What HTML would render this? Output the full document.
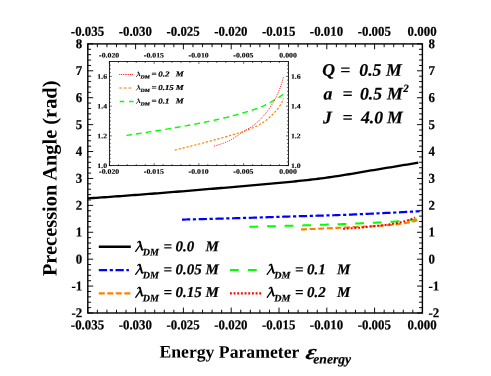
<!DOCTYPE html>
<html><head><meta charset="utf-8"><title>plot</title>
<style>html,body{margin:0;padding:0;background:#fff;}body{width:491px;height:376px;position:relative;overflow:hidden;font-family:"Liberation Serif",serif;}</style>
</head><body>
<svg width="491" height="376" viewBox="0 0 491 376" style="position:absolute;left:0;top:0;will-change:transform">
<rect x="0" y="0" width="491" height="376" fill="#fff"/>
<rect x="87.8" y="43.9" width="334.59999999999997" height="269.1" fill="none" stroke="#000" stroke-width="1.4"/>
<path d="M87.80,313.0 v-5.4 M87.80,43.9 v5.4 M97.36,313.0 v-3.3 M97.36,43.9 v3.3 M106.92,313.0 v-3.3 M106.92,43.9 v3.3 M116.48,313.0 v-3.3 M116.48,43.9 v3.3 M126.04,313.0 v-3.3 M126.04,43.9 v3.3 M135.60,313.0 v-5.4 M135.60,43.9 v5.4 M145.16,313.0 v-3.3 M145.16,43.9 v3.3 M154.72,313.0 v-3.3 M154.72,43.9 v3.3 M164.28,313.0 v-3.3 M164.28,43.9 v3.3 M173.84,313.0 v-3.3 M173.84,43.9 v3.3 M183.40,313.0 v-5.4 M183.40,43.9 v5.4 M192.96,313.0 v-3.3 M192.96,43.9 v3.3 M202.52,313.0 v-3.3 M202.52,43.9 v3.3 M212.08,313.0 v-3.3 M212.08,43.9 v3.3 M221.64,313.0 v-3.3 M221.64,43.9 v3.3 M231.20,313.0 v-5.4 M231.20,43.9 v5.4 M240.76,313.0 v-3.3 M240.76,43.9 v3.3 M250.32,313.0 v-3.3 M250.32,43.9 v3.3 M259.88,313.0 v-3.3 M259.88,43.9 v3.3 M269.44,313.0 v-3.3 M269.44,43.9 v3.3 M279.00,313.0 v-5.4 M279.00,43.9 v5.4 M288.56,313.0 v-3.3 M288.56,43.9 v3.3 M298.12,313.0 v-3.3 M298.12,43.9 v3.3 M307.68,313.0 v-3.3 M307.68,43.9 v3.3 M317.24,313.0 v-3.3 M317.24,43.9 v3.3 M326.80,313.0 v-5.4 M326.80,43.9 v5.4 M336.36,313.0 v-3.3 M336.36,43.9 v3.3 M345.92,313.0 v-3.3 M345.92,43.9 v3.3 M355.48,313.0 v-3.3 M355.48,43.9 v3.3 M365.04,313.0 v-3.3 M365.04,43.9 v3.3 M374.60,313.0 v-5.4 M374.60,43.9 v5.4 M384.16,313.0 v-3.3 M384.16,43.9 v3.3 M393.72,313.0 v-3.3 M393.72,43.9 v3.3 M403.28,313.0 v-3.3 M403.28,43.9 v3.3 M412.84,313.0 v-3.3 M412.84,43.9 v3.3 M422.40,313.0 v-5.4 M422.40,43.9 v5.4 M87.8,313.00 h5.4 M422.4,313.00 h-5.4 M87.8,307.62 h3.3 M422.4,307.62 h-3.3 M87.8,302.24 h3.3 M422.4,302.24 h-3.3 M87.8,296.85 h3.3 M422.4,296.85 h-3.3 M87.8,291.47 h3.3 M422.4,291.47 h-3.3 M87.8,286.09 h5.4 M422.4,286.09 h-5.4 M87.8,280.71 h3.3 M422.4,280.71 h-3.3 M87.8,275.33 h3.3 M422.4,275.33 h-3.3 M87.8,269.94 h3.3 M422.4,269.94 h-3.3 M87.8,264.56 h3.3 M422.4,264.56 h-3.3 M87.8,259.18 h5.4 M422.4,259.18 h-5.4 M87.8,253.80 h3.3 M422.4,253.80 h-3.3 M87.8,248.42 h3.3 M422.4,248.42 h-3.3 M87.8,243.03 h3.3 M422.4,243.03 h-3.3 M87.8,237.65 h3.3 M422.4,237.65 h-3.3 M87.8,232.27 h5.4 M422.4,232.27 h-5.4 M87.8,226.89 h3.3 M422.4,226.89 h-3.3 M87.8,221.51 h3.3 M422.4,221.51 h-3.3 M87.8,216.12 h3.3 M422.4,216.12 h-3.3 M87.8,210.74 h3.3 M422.4,210.74 h-3.3 M87.8,205.36 h5.4 M422.4,205.36 h-5.4 M87.8,199.98 h3.3 M422.4,199.98 h-3.3 M87.8,194.60 h3.3 M422.4,194.60 h-3.3 M87.8,189.21 h3.3 M422.4,189.21 h-3.3 M87.8,183.83 h3.3 M422.4,183.83 h-3.3 M87.8,178.45 h5.4 M422.4,178.45 h-5.4 M87.8,173.07 h3.3 M422.4,173.07 h-3.3 M87.8,167.69 h3.3 M422.4,167.69 h-3.3 M87.8,162.30 h3.3 M422.4,162.30 h-3.3 M87.8,156.92 h3.3 M422.4,156.92 h-3.3 M87.8,151.54 h5.4 M422.4,151.54 h-5.4 M87.8,146.16 h3.3 M422.4,146.16 h-3.3 M87.8,140.78 h3.3 M422.4,140.78 h-3.3 M87.8,135.39 h3.3 M422.4,135.39 h-3.3 M87.8,130.01 h3.3 M422.4,130.01 h-3.3 M87.8,124.63 h5.4 M422.4,124.63 h-5.4 M87.8,119.25 h3.3 M422.4,119.25 h-3.3 M87.8,113.87 h3.3 M422.4,113.87 h-3.3 M87.8,108.48 h3.3 M422.4,108.48 h-3.3 M87.8,103.10 h3.3 M422.4,103.10 h-3.3 M87.8,97.72 h5.4 M422.4,97.72 h-5.4 M87.8,92.34 h3.3 M422.4,92.34 h-3.3 M87.8,86.96 h3.3 M422.4,86.96 h-3.3 M87.8,81.57 h3.3 M422.4,81.57 h-3.3 M87.8,76.19 h3.3 M422.4,76.19 h-3.3 M87.8,70.81 h5.4 M422.4,70.81 h-5.4 M87.8,65.43 h3.3 M422.4,65.43 h-3.3 M87.8,60.05 h3.3 M422.4,60.05 h-3.3 M87.8,54.66 h3.3 M422.4,54.66 h-3.3 M87.8,49.28 h3.3 M422.4,49.28 h-3.3 M87.8,43.90 h5.4 M422.4,43.90 h-5.4" stroke="#000" stroke-width="0.95" fill="none"/>
<g font-family="Liberation Serif, serif" font-weight="bold" font-size="13.3px" fill="#000" stroke="#000" stroke-width="0.2">
<text transform="translate(87.50,329.30) rotate(0.05) scale(0.97,1.02)" text-anchor="middle">-0.035</text>
<text transform="translate(87.50,35.80) rotate(0.05) scale(0.97,1.02)" text-anchor="middle">-0.035</text>
<text transform="translate(135.30,329.30) rotate(0.05) scale(0.97,1.02)" text-anchor="middle">-0.030</text>
<text transform="translate(135.30,35.80) rotate(0.05) scale(0.97,1.02)" text-anchor="middle">-0.030</text>
<text transform="translate(183.10,329.30) rotate(0.05) scale(0.97,1.02)" text-anchor="middle">-0.025</text>
<text transform="translate(183.10,35.80) rotate(0.05) scale(0.97,1.02)" text-anchor="middle">-0.025</text>
<text transform="translate(230.90,329.30) rotate(0.05) scale(0.97,1.02)" text-anchor="middle">-0.020</text>
<text transform="translate(230.90,35.80) rotate(0.05) scale(0.97,1.02)" text-anchor="middle">-0.020</text>
<text transform="translate(278.70,329.30) rotate(0.05) scale(0.97,1.02)" text-anchor="middle">-0.015</text>
<text transform="translate(278.70,35.80) rotate(0.05) scale(0.97,1.02)" text-anchor="middle">-0.015</text>
<text transform="translate(326.50,329.30) rotate(0.05) scale(0.97,1.02)" text-anchor="middle">-0.010</text>
<text transform="translate(326.50,35.80) rotate(0.05) scale(0.97,1.02)" text-anchor="middle">-0.010</text>
<text transform="translate(374.30,329.30) rotate(0.05) scale(0.97,1.02)" text-anchor="middle">-0.005</text>
<text transform="translate(374.30,35.80) rotate(0.05) scale(0.97,1.02)" text-anchor="middle">-0.005</text>
<text transform="translate(422.10,329.30) rotate(0.05) scale(0.97,1.02)" text-anchor="middle">0.000</text>
<text transform="translate(422.10,35.80) rotate(0.05) scale(0.97,1.02)" text-anchor="middle">0.000</text>
<text transform="translate(82.20,317.30) rotate(0.05) scale(0.97,1.02)" text-anchor="end">-2</text>
<text transform="translate(428.40,317.30) rotate(0.05) scale(0.97,1.02)" text-anchor="start">-2</text>
<text transform="translate(82.20,290.39) rotate(0.05) scale(0.97,1.02)" text-anchor="end">-1</text>
<text transform="translate(428.40,290.39) rotate(0.05) scale(0.97,1.02)" text-anchor="start">-1</text>
<text transform="translate(82.20,263.48) rotate(0.05) scale(0.97,1.02)" text-anchor="end">0</text>
<text transform="translate(428.40,263.48) rotate(0.05) scale(0.97,1.02)" text-anchor="start">0</text>
<text transform="translate(82.20,236.57) rotate(0.05) scale(0.97,1.02)" text-anchor="end">1</text>
<text transform="translate(428.40,236.57) rotate(0.05) scale(0.97,1.02)" text-anchor="start">1</text>
<text transform="translate(82.20,209.66) rotate(0.05) scale(0.97,1.02)" text-anchor="end">2</text>
<text transform="translate(428.40,209.66) rotate(0.05) scale(0.97,1.02)" text-anchor="start">2</text>
<text transform="translate(82.20,182.75) rotate(0.05) scale(0.97,1.02)" text-anchor="end">3</text>
<text transform="translate(428.40,182.75) rotate(0.05) scale(0.97,1.02)" text-anchor="start">3</text>
<text transform="translate(82.20,155.84) rotate(0.05) scale(0.97,1.02)" text-anchor="end">4</text>
<text transform="translate(428.40,155.84) rotate(0.05) scale(0.97,1.02)" text-anchor="start">4</text>
<text transform="translate(82.20,128.93) rotate(0.05) scale(0.97,1.02)" text-anchor="end">5</text>
<text transform="translate(428.40,128.93) rotate(0.05) scale(0.97,1.02)" text-anchor="start">5</text>
<text transform="translate(82.20,102.02) rotate(0.05) scale(0.97,1.02)" text-anchor="end">6</text>
<text transform="translate(428.40,102.02) rotate(0.05) scale(0.97,1.02)" text-anchor="start">6</text>
<text transform="translate(82.20,75.11) rotate(0.05) scale(0.97,1.02)" text-anchor="end">7</text>
<text transform="translate(428.40,75.11) rotate(0.05) scale(0.97,1.02)" text-anchor="start">7</text>
<text transform="translate(82.20,48.20) rotate(0.05) scale(0.97,1.02)" text-anchor="end">8</text>
<text transform="translate(428.40,48.20) rotate(0.05) scale(0.97,1.02)" text-anchor="start">8</text>
</g>
<rect x="109.4" y="61.5" width="178.99999999999997" height="104.1" fill="#fff" stroke="#000" stroke-width="0.85"/>
<path d="M109.40,165.6 v-2.4 M109.40,61.5 v2.4 M118.35,165.6 v-1.5 M118.35,61.5 v1.5 M127.30,165.6 v-1.5 M127.30,61.5 v1.5 M136.25,165.6 v-1.5 M136.25,61.5 v1.5 M145.20,165.6 v-1.5 M145.20,61.5 v1.5 M154.15,165.6 v-2.4 M154.15,61.5 v2.4 M163.10,165.6 v-1.5 M163.10,61.5 v1.5 M172.05,165.6 v-1.5 M172.05,61.5 v1.5 M181.00,165.6 v-1.5 M181.00,61.5 v1.5 M189.95,165.6 v-1.5 M189.95,61.5 v1.5 M198.90,165.6 v-2.4 M198.90,61.5 v2.4 M207.85,165.6 v-1.5 M207.85,61.5 v1.5 M216.80,165.6 v-1.5 M216.80,61.5 v1.5 M225.75,165.6 v-1.5 M225.75,61.5 v1.5 M234.70,165.6 v-1.5 M234.70,61.5 v1.5 M243.65,165.6 v-2.4 M243.65,61.5 v2.4 M252.60,165.6 v-1.5 M252.60,61.5 v1.5 M261.55,165.6 v-1.5 M261.55,61.5 v1.5 M270.50,165.6 v-1.5 M270.50,61.5 v1.5 M279.45,165.6 v-1.5 M279.45,61.5 v1.5 M288.40,165.6 v-2.4 M288.40,61.5 v2.4 M109.4,165.60 h2.4 M288.4,165.60 h-2.4 M109.4,161.88 h1.5 M288.4,161.88 h-1.5 M109.4,158.17 h1.5 M288.4,158.17 h-1.5 M109.4,154.45 h1.5 M288.4,154.45 h-1.5 M109.4,150.73 h1.5 M288.4,150.73 h-1.5 M109.4,147.02 h1.5 M288.4,147.02 h-1.5 M109.4,143.30 h1.5 M288.4,143.30 h-1.5 M109.4,139.59 h1.5 M288.4,139.59 h-1.5 M109.4,135.87 h2.4 M288.4,135.87 h-2.4 M109.4,132.15 h1.5 M288.4,132.15 h-1.5 M109.4,128.44 h1.5 M288.4,128.44 h-1.5 M109.4,124.72 h1.5 M288.4,124.72 h-1.5 M109.4,121.00 h1.5 M288.4,121.00 h-1.5 M109.4,117.29 h1.5 M288.4,117.29 h-1.5 M109.4,113.57 h1.5 M288.4,113.57 h-1.5 M109.4,109.86 h1.5 M288.4,109.86 h-1.5 M109.4,106.14 h2.4 M288.4,106.14 h-2.4 M109.4,102.42 h1.5 M288.4,102.42 h-1.5 M109.4,98.71 h1.5 M288.4,98.71 h-1.5 M109.4,94.99 h1.5 M288.4,94.99 h-1.5 M109.4,91.27 h1.5 M288.4,91.27 h-1.5 M109.4,87.56 h1.5 M288.4,87.56 h-1.5 M109.4,83.84 h1.5 M288.4,83.84 h-1.5 M109.4,80.13 h1.5 M288.4,80.13 h-1.5 M109.4,76.41 h2.4 M288.4,76.41 h-2.4 M109.4,72.69 h1.5 M288.4,72.69 h-1.5 M109.4,68.98 h1.5 M288.4,68.98 h-1.5 M109.4,65.26 h1.5 M288.4,65.26 h-1.5" stroke="#000" stroke-width="0.6" fill="none"/>
<g font-family="Liberation Serif, serif" font-weight="bold" font-size="6.9px" fill="#000" stroke="#000" stroke-width="0.12">
<text transform="translate(109.10,173.80) rotate(0.05) scale(1.13,1)" text-anchor="middle">-0.020</text>
<text transform="translate(109.10,57.60) rotate(0.05) scale(1.13,1)" text-anchor="middle">-0.020</text>
<text transform="translate(153.85,173.80) rotate(0.05) scale(1.13,1)" text-anchor="middle">-0.015</text>
<text transform="translate(153.85,57.60) rotate(0.05) scale(1.13,1)" text-anchor="middle">-0.015</text>
<text transform="translate(198.60,173.80) rotate(0.05) scale(1.13,1)" text-anchor="middle">-0.010</text>
<text transform="translate(198.60,57.60) rotate(0.05) scale(1.13,1)" text-anchor="middle">-0.010</text>
<text transform="translate(243.35,173.80) rotate(0.05) scale(1.13,1)" text-anchor="middle">-0.005</text>
<text transform="translate(243.35,57.60) rotate(0.05) scale(1.13,1)" text-anchor="middle">-0.005</text>
<text transform="translate(288.10,173.80) rotate(0.05) scale(1.13,1)" text-anchor="middle">0.000</text>
<text transform="translate(288.10,57.60) rotate(0.05) scale(1.13,1)" text-anchor="middle">0.000</text>
<text transform="translate(107.10,168.00) rotate(0.05) scale(1.13,1)" text-anchor="end">1.0</text>
<text transform="translate(290.90,168.00) rotate(0.05) scale(1.13,1)" text-anchor="start">1.0</text>
<text transform="translate(107.10,138.27) rotate(0.05) scale(1.13,1)" text-anchor="end">1.2</text>
<text transform="translate(290.90,138.27) rotate(0.05) scale(1.13,1)" text-anchor="start">1.2</text>
<text transform="translate(107.10,108.54) rotate(0.05) scale(1.13,1)" text-anchor="end">1.4</text>
<text transform="translate(290.90,108.54) rotate(0.05) scale(1.13,1)" text-anchor="start">1.4</text>
<text transform="translate(107.10,78.81) rotate(0.05) scale(1.13,1)" text-anchor="end">1.6</text>
<text transform="translate(290.90,78.81) rotate(0.05) scale(1.13,1)" text-anchor="start">1.6</text>
</g>
<path d="M126.40,135.42 L128.65,135.09 L130.88,134.76 L133.10,134.43 L135.30,134.10 L137.48,133.77 L139.65,133.44 L141.80,133.11 L143.94,132.78 L146.06,132.45 L148.17,132.12 L150.26,131.79 L152.33,131.46 L154.39,131.13 L156.43,130.80 L158.46,130.47 L160.47,130.15 L162.46,129.82 L164.44,129.49 L166.41,129.16 L168.36,128.83 L170.29,128.51 L172.21,128.18 L174.11,127.85 L176.00,127.53 L177.87,127.20 L179.72,126.88 L181.56,126.55 L183.38,126.23 L185.19,125.91 L186.98,125.58 L188.76,125.26 L190.52,124.93 L192.26,124.61 L193.99,124.28 L195.70,123.96 L197.40,123.63 L199.08,123.30 L200.75,122.98 L202.40,122.65 L204.04,122.32 L205.65,122.00 L207.26,121.67 L208.85,121.35 L210.42,121.02 L211.97,120.69 L213.51,120.37 L215.04,120.04 L216.55,119.71 L218.04,119.38 L219.52,119.04 L220.98,118.71 L222.43,118.38 L223.86,118.04 L225.28,117.70 L226.68,117.36 L228.06,117.01 L229.43,116.66 L230.78,116.31 L232.12,115.96 L233.44,115.61 L234.74,115.25 L236.03,114.90 L237.31,114.54 L238.56,114.19 L239.81,113.83 L241.03,113.48 L242.25,113.12 L243.44,112.77 L244.62,112.42 L245.79,112.07 L246.93,111.72 L248.07,111.38 L249.18,111.04 L250.28,110.69 L251.37,110.35 L252.44,110.01 L253.50,109.66 L254.53,109.32 L255.56,108.97 L256.56,108.62 L257.56,108.27 L258.53,107.91 L259.49,107.55 L260.44,107.18 L261.37,106.81 L262.28,106.43 L263.18,106.05 L264.06,105.65 L264.92,105.24 L265.77,104.83 L266.61,104.41 L267.43,103.98 L268.23,103.55 L269.02,103.12 L269.79,102.69 L270.55,102.26 L271.29,101.83 L272.01,101.41 L272.72,100.99 L273.42,100.58 L274.09,100.18 L274.76,99.79 L275.40,99.41 L276.03,99.04 L276.65,98.67 L277.25,98.31 L277.83,97.95 L278.40,97.59 L278.95,97.24 L279.49,96.89 L280.01,96.55 L280.51,96.21 L281.00,95.87 L281.48,95.54 L281.94,95.21 L282.38,94.89 L282.81,94.57 L283.22,94.26 L283.61,93.95" fill="none" stroke="#00ff00" stroke-width="1.4" stroke-dasharray="5.8,4.06" stroke-dashoffset="0.2"/>
<path d="M174.74,150.14 L176.25,149.77 L177.75,149.40 L179.24,149.02 L180.73,148.66 L182.20,148.29 L183.66,147.92 L185.11,147.55 L186.56,147.19 L187.99,146.83 L189.41,146.47 L190.82,146.11 L192.22,145.75 L193.62,145.39 L195.00,145.04 L196.37,144.69 L197.73,144.34 L199.08,143.99 L200.42,143.64 L201.75,143.30 L203.07,142.95 L204.38,142.61 L205.68,142.27 L206.97,141.93 L208.25,141.59 L209.52,141.25 L210.78,140.92 L212.03,140.58 L213.27,140.24 L214.50,139.91 L215.72,139.58 L216.93,139.25 L218.13,138.92 L219.32,138.59 L220.49,138.26 L221.66,137.93 L222.82,137.61 L223.97,137.28 L225.11,136.96 L226.24,136.64 L227.35,136.32 L228.46,135.99 L229.56,135.68 L230.65,135.36 L231.72,135.04 L232.79,134.72 L233.85,134.41 L234.89,134.10 L235.93,133.79 L236.96,133.49 L237.97,133.20 L238.98,132.91 L239.97,132.62 L240.96,132.32 L241.94,132.01 L242.90,131.70 L243.86,131.37 L244.80,131.03 L245.74,130.69 L246.66,130.35 L247.58,130.01 L248.48,129.65 L249.38,129.30 L250.26,128.94 L251.14,128.58 L252.00,128.21 L252.85,127.84 L253.70,127.46 L254.53,127.07 L255.36,126.68 L256.17,126.29 L256.97,125.89 L257.77,125.48 L258.55,125.07 L259.32,124.65 L260.09,124.23 L260.84,123.79 L261.58,123.35 L262.31,122.91 L263.04,122.45 L263.75,121.97 L264.45,121.48 L265.14,120.98 L265.82,120.46 L266.49,119.94 L267.16,119.40 L267.81,118.86 L268.45,118.31 L269.08,117.76 L269.70,117.20 L270.31,116.65 L270.91,116.09 L271.50,115.54 L272.08,114.99 L272.65,114.43 L273.21,113.88 L273.76,113.32 L274.30,112.76 L274.83,112.19 L275.35,111.63 L275.86,111.05 L276.36,110.47 L276.85,109.88 L277.33,109.29 L277.80,108.69 L278.26,108.08 L278.70,107.46 L279.14,106.83 L279.57,106.19 L279.99,105.54 L280.40,104.88 L280.79,104.21 L281.18,103.54 L281.56,102.85 L281.93,102.15 L282.28,101.45 L282.63,100.74 L282.97,100.02 L283.30,99.29 L283.61,98.56" fill="none" stroke="#ff8000" stroke-width="1.15" stroke-dasharray="2.3,1.7"/>
<path d="M214.11,145.98 L215.04,145.75 L215.97,145.51 L216.88,145.26 L217.79,145.00 L218.70,144.73 L219.60,144.45 L220.49,144.15 L221.38,143.85 L222.26,143.54 L223.14,143.22 L224.01,142.89 L224.87,142.55 L225.73,142.20 L226.58,141.85 L227.43,141.49 L228.27,141.12 L229.11,140.74 L229.94,140.34 L230.76,139.91 L231.58,139.46 L232.39,138.99 L233.19,138.51 L234.00,138.00 L234.79,137.49 L235.58,136.97 L236.36,136.44 L237.14,135.91 L237.91,135.37 L238.67,134.84 L239.43,134.30 L240.19,133.78 L240.93,133.26 L241.67,132.76 L242.41,132.27 L243.14,131.79 L243.86,131.33 L244.58,130.89 L245.30,130.47 L246.00,130.05 L246.70,129.65 L247.40,129.25 L248.09,128.85 L248.77,128.45 L249.45,128.05 L250.12,127.65 L250.79,127.23 L251.45,126.81 L252.10,126.37 L252.75,125.91 L253.39,125.44 L254.03,124.96 L254.66,124.46 L255.28,123.95 L255.90,123.43 L256.51,122.90 L257.12,122.37 L257.72,121.82 L258.32,121.27 L258.91,120.71 L259.49,120.14 L260.07,119.57 L260.64,118.99 L261.21,118.40 L261.77,117.82 L262.33,117.22 L262.87,116.63 L263.42,116.02 L263.95,115.41 L264.49,114.78 L265.01,114.15 L265.53,113.52 L266.05,112.87 L266.55,112.22 L267.06,111.57 L267.55,110.91 L268.04,110.24 L268.53,109.57 L269.01,108.89 L269.48,108.21 L269.95,107.53 L270.41,106.84 L270.86,106.15 L271.31,105.45 L271.76,104.75 L272.20,104.05 L272.63,103.34 L273.05,102.62 L273.47,101.89 L273.89,101.16 L274.30,100.42 L274.70,99.68 L275.10,98.93 L275.49,98.18 L275.87,97.42 L276.25,96.66 L276.63,95.89 L277.00,95.11 L277.36,94.34 L277.71,93.56 L278.06,92.77 L278.41,91.98 L278.75,91.18 L279.08,90.38 L279.41,89.57 L279.73,88.75 L280.04,87.92 L280.35,87.08 L280.66,86.23 L280.95,85.37 L281.25,84.49 L281.53,83.61 L281.81,82.71 L282.09,81.80 L282.36,80.88 L282.62,79.95 L282.88,79.00 L283.13,78.05 L283.37,77.09 L283.61,76.11" fill="none" stroke="#ff0000" stroke-width="1.0" stroke-dasharray="1.0,1.25"/>
<path d="M87.80,198.39 L90.58,198.20 L93.35,198.01 L96.13,197.82 L98.91,197.63 L101.69,197.44 L104.46,197.24 L107.24,197.04 L110.02,196.85 L112.79,196.65 L115.57,196.45 L118.35,196.24 L121.13,196.04 L123.90,195.84 L126.68,195.63 L129.46,195.42 L132.24,195.22 L135.01,195.01 L137.79,194.80 L140.57,194.59 L143.34,194.37 L146.12,194.16 L148.90,193.94 L151.68,193.73 L154.45,193.51 L157.23,193.29 L160.01,193.07 L162.78,192.85 L165.56,192.63 L168.34,192.41 L171.12,192.19 L173.89,191.96 L176.67,191.74 L179.45,191.51 L182.23,191.28 L185.00,191.06 L187.78,190.83 L190.56,190.60 L193.33,190.37 L196.11,190.14 L198.89,189.90 L201.67,189.67 L204.44,189.44 L207.22,189.20 L210.00,188.97 L212.77,188.73 L215.55,188.49 L218.33,188.26 L221.11,188.02 L223.88,187.78 L226.66,187.54 L229.44,187.30 L232.22,187.06 L234.99,186.82 L237.77,186.58 L240.55,186.33 L243.32,186.09 L246.10,185.85 L248.88,185.60 L251.66,185.36 L254.43,185.11 L257.21,184.87 L259.99,184.63 L262.76,184.38 L265.54,184.13 L268.32,183.89 L271.10,183.64 L273.87,183.39 L276.65,183.13 L279.43,182.88 L282.21,182.62 L284.98,182.35 L287.76,182.08 L290.54,181.81 L293.31,181.54 L296.09,181.25 L298.87,180.97 L301.65,180.67 L304.42,180.37 L307.20,180.07 L309.98,179.75 L312.75,179.43 L315.53,179.09 L318.31,178.74 L321.09,178.38 L323.86,178.02 L326.64,177.64 L329.42,177.25 L332.20,176.86 L334.97,176.45 L337.75,176.04 L340.53,175.62 L343.30,175.19 L346.08,174.73 L348.86,174.25 L351.64,173.77 L354.41,173.28 L357.19,172.81 L359.97,172.34 L362.74,171.88 L365.52,171.41 L368.30,170.95 L371.08,170.49 L373.85,170.02 L376.63,169.56 L379.41,169.10 L382.19,168.64 L384.96,168.18 L387.74,167.72 L390.52,167.26 L393.29,166.80 L396.07,166.34 L398.85,165.89 L401.63,165.43 L404.40,164.98 L407.18,164.52 L409.96,164.07 L412.73,163.61 L415.51,163.16 L418.29,162.71" fill="none" stroke="#000" stroke-width="2.3"/>
<path d="M181.97,219.60 L183.96,219.55 L185.96,219.50 L187.96,219.46 L189.95,219.41 L191.95,219.36 L193.95,219.31 L195.95,219.26 L197.94,219.22 L199.94,219.17 L201.94,219.12 L203.93,219.07 L205.93,219.01 L207.93,218.96 L209.93,218.91 L211.92,218.86 L213.92,218.81 L215.92,218.75 L217.91,218.70 L219.91,218.65 L221.91,218.59 L223.91,218.54 L225.90,218.48 L227.90,218.43 L229.90,218.37 L231.89,218.32 L233.89,218.26 L235.89,218.20 L237.89,218.15 L239.88,218.09 L241.88,218.03 L243.88,217.97 L245.88,217.91 L247.87,217.86 L249.87,217.80 L251.87,217.74 L253.86,217.68 L255.86,217.61 L257.86,217.55 L259.86,217.49 L261.85,217.42 L263.85,217.35 L265.85,217.29 L267.84,217.22 L269.84,217.15 L271.84,217.09 L273.84,217.02 L275.83,216.95 L277.83,216.88 L279.83,216.82 L281.82,216.75 L283.82,216.68 L285.82,216.62 L287.82,216.55 L289.81,216.49 L291.81,216.43 L293.81,216.37 L295.80,216.31 L297.80,216.25 L299.80,216.20 L301.80,216.14 L303.79,216.09 L305.79,216.03 L307.79,215.98 L309.78,215.93 L311.78,215.88 L313.78,215.82 L315.78,215.77 L317.77,215.72 L319.77,215.66 L321.77,215.60 L323.76,215.55 L325.76,215.49 L327.76,215.43 L329.76,215.36 L331.75,215.30 L333.75,215.23 L335.75,215.16 L337.74,215.09 L339.74,215.01 L341.74,214.94 L343.74,214.86 L345.73,214.78 L347.73,214.70 L349.73,214.61 L351.72,214.53 L353.72,214.45 L355.72,214.36 L357.72,214.27 L359.71,214.18 L361.71,214.09 L363.71,214.00 L365.70,213.91 L367.70,213.82 L369.70,213.73 L371.70,213.63 L373.69,213.54 L375.69,213.45 L377.69,213.35 L379.68,213.26 L381.68,213.16 L383.68,213.07 L385.68,212.97 L387.67,212.88 L389.67,212.78 L391.67,212.68 L393.66,212.58 L395.66,212.48 L397.66,212.38 L399.66,212.28 L401.65,212.17 L403.65,212.07 L405.65,211.96 L407.64,211.85 L409.64,211.75 L411.64,211.64 L413.64,211.53 L415.63,211.42 L417.63,211.31 L419.63,211.20" fill="none" stroke="#0000ff" stroke-width="2.2" stroke-dasharray="8.3,2.6,3.2,2.6"/>
<path d="M249.36,226.81 L251.76,226.75 L254.15,226.69 L256.51,226.63 L258.86,226.57 L261.20,226.51 L263.51,226.45 L265.81,226.39 L268.09,226.33 L270.36,226.27 L272.61,226.21 L274.84,226.15 L277.06,226.09 L279.25,226.03 L281.44,225.97 L283.60,225.91 L285.75,225.85 L287.88,225.79 L290.00,225.73 L292.09,225.67 L294.18,225.61 L296.24,225.56 L298.29,225.50 L300.32,225.44 L302.33,225.38 L304.33,225.32 L306.31,225.26 L308.28,225.20 L310.22,225.14 L312.15,225.08 L314.07,225.03 L315.97,224.97 L317.85,224.91 L319.71,224.85 L321.56,224.79 L323.39,224.73 L325.20,224.67 L327.00,224.61 L328.78,224.55 L330.54,224.49 L332.29,224.44 L334.01,224.38 L335.73,224.32 L337.42,224.26 L339.10,224.20 L340.77,224.14 L342.41,224.08 L344.04,224.02 L345.65,223.96 L347.25,223.90 L348.83,223.84 L350.39,223.78 L351.93,223.72 L353.46,223.66 L354.97,223.60 L356.47,223.54 L357.95,223.47 L359.41,223.41 L360.85,223.35 L362.28,223.28 L363.69,223.22 L365.09,223.16 L366.46,223.09 L367.82,223.03 L369.17,222.96 L370.50,222.90 L371.81,222.83 L373.10,222.77 L374.38,222.71 L375.64,222.64 L376.88,222.58 L378.11,222.52 L379.32,222.45 L380.51,222.39 L381.69,222.33 L382.85,222.27 L383.99,222.21 L385.12,222.14 L386.23,222.08 L387.32,222.02 L388.39,221.95 L389.45,221.89 L390.50,221.83 L391.52,221.76 L392.53,221.69 L393.52,221.63 L394.50,221.56 L395.46,221.49 L396.40,221.42 L397.32,221.34 L398.23,221.27 L399.12,221.19 L400.00,221.11 L400.86,221.04 L401.70,220.96 L402.52,220.88 L403.33,220.80 L404.12,220.73 L404.90,220.65 L405.65,220.57 L406.39,220.50 L407.12,220.43 L407.83,220.36 L408.52,220.29 L409.19,220.22 L409.85,220.15 L410.49,220.09 L411.11,220.02 L411.72,219.96 L412.31,219.89 L412.88,219.83 L413.44,219.77 L413.98,219.71 L414.50,219.65 L415.01,219.59 L415.50,219.53 L415.97,219.47 L416.42,219.41 L416.86,219.36 L417.29,219.30" fill="none" stroke="#00ff00" stroke-width="2.0" stroke-dasharray="8.8,8.85"/>
<path d="M300.99,229.47 L302.60,229.40 L304.21,229.34 L305.80,229.27 L307.39,229.20 L308.96,229.14 L310.52,229.07 L312.07,229.00 L313.62,228.94 L315.14,228.87 L316.66,228.81 L318.17,228.74 L319.67,228.68 L321.16,228.61 L322.63,228.55 L324.10,228.48 L325.55,228.42 L326.99,228.36 L328.42,228.30 L329.85,228.23 L331.26,228.17 L332.66,228.11 L334.04,228.05 L335.42,227.98 L336.79,227.92 L338.15,227.86 L339.49,227.80 L340.83,227.74 L342.15,227.68 L343.46,227.62 L344.77,227.56 L346.06,227.50 L347.34,227.44 L348.61,227.38 L349.87,227.32 L351.11,227.26 L352.35,227.20 L353.58,227.14 L354.79,227.09 L356.00,227.03 L357.19,226.97 L358.38,226.91 L359.55,226.85 L360.71,226.80 L361.86,226.74 L363.00,226.68 L364.13,226.62 L365.25,226.57 L366.35,226.51 L367.45,226.46 L368.54,226.40 L369.61,226.35 L370.67,226.30 L371.73,226.24 L372.77,226.19 L373.80,226.13 L374.82,226.07 L375.83,226.01 L376.83,225.95 L377.82,225.89 L378.80,225.83 L379.76,225.76 L380.72,225.70 L381.66,225.63 L382.60,225.57 L383.52,225.50 L384.43,225.43 L385.33,225.36 L386.22,225.30 L387.10,225.23 L387.97,225.15 L388.83,225.08 L389.68,225.01 L390.52,224.93 L391.34,224.86 L392.16,224.78 L392.96,224.70 L393.75,224.62 L394.54,224.54 L395.31,224.46 L396.07,224.37 L396.82,224.28 L397.56,224.19 L398.28,224.10 L399.00,224.00 L399.71,223.91 L400.40,223.81 L401.09,223.71 L401.76,223.61 L402.43,223.51 L403.08,223.41 L403.72,223.31 L404.35,223.21 L404.97,223.11 L405.58,223.01 L406.18,222.91 L406.77,222.81 L407.34,222.70 L407.91,222.60 L408.46,222.50 L409.01,222.39 L409.54,222.29 L410.06,222.18 L410.57,222.08 L411.07,221.97 L411.56,221.86 L412.04,221.74 L412.51,221.63 L412.97,221.51 L413.42,221.40 L413.85,221.28 L414.28,221.16 L414.69,221.03 L415.09,220.91 L415.49,220.78 L415.87,220.66 L416.24,220.53 L416.60,220.40 L416.95,220.27 L417.29,220.13" fill="none" stroke="#ff8000" stroke-width="2.1" stroke-dasharray="6,2.6"/>
<path d="M343.05,228.72 L344.04,228.68 L345.03,228.63 L346.01,228.59 L346.98,228.54 L347.95,228.49 L348.91,228.44 L349.86,228.39 L350.81,228.33 L351.75,228.28 L352.69,228.22 L353.62,228.16 L354.54,228.10 L355.46,228.03 L356.37,227.97 L357.28,227.90 L358.17,227.84 L359.07,227.77 L359.95,227.70 L360.83,227.62 L361.70,227.54 L362.57,227.45 L363.43,227.37 L364.29,227.27 L365.14,227.18 L365.98,227.09 L366.81,226.99 L367.64,226.89 L368.47,226.80 L369.28,226.70 L370.09,226.60 L370.90,226.51 L371.70,226.42 L372.49,226.32 L373.28,226.24 L374.06,226.15 L374.83,226.07 L375.60,225.99 L376.36,225.91 L377.11,225.84 L377.86,225.76 L378.60,225.69 L379.34,225.62 L380.07,225.55 L380.79,225.47 L381.51,225.40 L382.22,225.32 L382.93,225.25 L383.63,225.17 L384.32,225.09 L385.00,225.00 L385.68,224.91 L386.36,224.82 L387.03,224.73 L387.69,224.64 L388.34,224.54 L388.99,224.44 L389.63,224.34 L390.27,224.24 L390.90,224.14 L391.52,224.04 L392.14,223.94 L392.75,223.83 L393.36,223.73 L393.96,223.62 L394.55,223.51 L395.13,223.40 L395.71,223.29 L396.29,223.18 L396.86,223.07 L397.42,222.96 L397.97,222.84 L398.52,222.72 L399.06,222.61 L399.60,222.49 L400.13,222.37 L400.66,222.25 L401.17,222.13 L401.68,222.00 L402.19,221.88 L402.69,221.76 L403.18,221.63 L403.67,221.51 L404.15,221.38 L404.62,221.26 L405.09,221.13 L405.55,221.00 L406.01,220.87 L406.46,220.74 L406.90,220.60 L407.34,220.47 L407.77,220.34 L408.19,220.20 L408.61,220.06 L409.02,219.93 L409.43,219.79 L409.83,219.65 L410.22,219.51 L410.60,219.37 L410.99,219.23 L411.36,219.09 L411.73,218.94 L412.09,218.80 L412.44,218.65 L412.79,218.51 L413.14,218.36 L413.47,218.21 L413.80,218.06 L414.13,217.90 L414.45,217.75 L414.76,217.59 L415.06,217.43" fill="none" stroke="#ff0000" stroke-width="2.0" stroke-dasharray="1.9,1.9"/>
<path d="M98.8,246.7 H130.8" stroke="#000" stroke-width="2.4"/>
<g transform="translate(134.2,251.2) scale(1.0)" fill="none" stroke="#000" stroke-linecap="round"><path d="M3.5,-8.6 Q4.4,-10.2 5.5,-9.7" stroke-width="1.1"/><path d="M5.6,-9.5 L7.7,-1.7" stroke-width="1.9"/><path d="M7.7,-1.6 Q8.1,-0.5 9.0,-1.6" stroke-width="1.1"/><path d="M6.0,-6.2 L1.5,0.2" stroke-width="1.3"/></g><text transform="translate(142.80,255.50) rotate(0.05)" font-family="Liberation Serif, serif" font-weight="bold" font-style="italic" fill="#000" stroke="#000" stroke-width="0.2" font-size="10px">DM</text><text transform="translate(163.60,251.2) rotate(0.05)" font-family="Liberation Serif, serif" font-weight="bold" font-style="italic" fill="#000" stroke="#000" stroke-width="0.2" font-size="15px">=</text><text transform="translate(175.50,251.2) rotate(0.05)" font-family="Liberation Serif, serif" font-weight="bold" font-style="italic" fill="#000" stroke="#000" stroke-width="0.2" font-size="15px">0.0</text><text transform="translate(205.50,251.2) rotate(0.05)" font-family="Liberation Serif, serif" font-weight="bold" font-style="italic" fill="#000" stroke="#000" stroke-width="0.2" font-size="15px">M</text>
<path d="M98.8,270.1 H128.9" stroke="#0000ff" stroke-width="2.2" stroke-dasharray="8.3,2.6,3.2,2.6"/>
<g transform="translate(134.2,274.2) scale(1.0)" fill="none" stroke="#000" stroke-linecap="round"><path d="M3.5,-8.6 Q4.4,-10.2 5.5,-9.7" stroke-width="1.1"/><path d="M5.6,-9.5 L7.7,-1.7" stroke-width="1.9"/><path d="M7.7,-1.6 Q8.1,-0.5 9.0,-1.6" stroke-width="1.1"/><path d="M6.0,-6.2 L1.5,0.2" stroke-width="1.3"/></g><text transform="translate(142.80,278.50) rotate(0.05)" font-family="Liberation Serif, serif" font-weight="bold" font-style="italic" fill="#000" stroke="#000" stroke-width="0.2" font-size="10px">DM</text><text transform="translate(163.60,274.2) rotate(0.05)" font-family="Liberation Serif, serif" font-weight="bold" font-style="italic" fill="#000" stroke="#000" stroke-width="0.2" font-size="15px">=</text><text transform="translate(175.50,274.2) rotate(0.05)" font-family="Liberation Serif, serif" font-weight="bold" font-style="italic" fill="#000" stroke="#000" stroke-width="0.2" font-size="15px">0.05</text><text transform="translate(205.50,274.2) rotate(0.05)" font-family="Liberation Serif, serif" font-weight="bold" font-style="italic" fill="#000" stroke="#000" stroke-width="0.2" font-size="15px">M</text>
<path d="M98.8,293.4 H131" stroke="#ff8000" stroke-width="2.2" stroke-dasharray="6,2.5"/>
<g transform="translate(134.2,297.1) scale(1.0)" fill="none" stroke="#000" stroke-linecap="round"><path d="M3.5,-8.6 Q4.4,-10.2 5.5,-9.7" stroke-width="1.1"/><path d="M5.6,-9.5 L7.7,-1.7" stroke-width="1.9"/><path d="M7.7,-1.6 Q8.1,-0.5 9.0,-1.6" stroke-width="1.1"/><path d="M6.0,-6.2 L1.5,0.2" stroke-width="1.3"/></g><text transform="translate(142.80,301.40) rotate(0.05)" font-family="Liberation Serif, serif" font-weight="bold" font-style="italic" fill="#000" stroke="#000" stroke-width="0.2" font-size="10px">DM</text><text transform="translate(163.60,297.1) rotate(0.05)" font-family="Liberation Serif, serif" font-weight="bold" font-style="italic" fill="#000" stroke="#000" stroke-width="0.2" font-size="15px">=</text><text transform="translate(175.50,297.1) rotate(0.05)" font-family="Liberation Serif, serif" font-weight="bold" font-style="italic" fill="#000" stroke="#000" stroke-width="0.2" font-size="15px">0.15</text><text transform="translate(205.50,297.1) rotate(0.05)" font-family="Liberation Serif, serif" font-weight="bold" font-style="italic" fill="#000" stroke="#000" stroke-width="0.2" font-size="15px">M</text>
<path d="M229.9,270.1 H257" stroke="#00ff00" stroke-width="2.0" stroke-dasharray="8.8,9.2"/>
<g transform="translate(265.7,274.2) scale(1.0)" fill="none" stroke="#000" stroke-linecap="round"><path d="M3.5,-8.6 Q4.4,-10.2 5.5,-9.7" stroke-width="1.1"/><path d="M5.6,-9.5 L7.7,-1.7" stroke-width="1.9"/><path d="M7.7,-1.6 Q8.1,-0.5 9.0,-1.6" stroke-width="1.1"/><path d="M6.0,-6.2 L1.5,0.2" stroke-width="1.3"/></g><text transform="translate(274.30,278.50) rotate(0.05)" font-family="Liberation Serif, serif" font-weight="bold" font-style="italic" fill="#000" stroke="#000" stroke-width="0.2" font-size="10px">DM</text><text transform="translate(295.10,274.2) rotate(0.05)" font-family="Liberation Serif, serif" font-weight="bold" font-style="italic" fill="#000" stroke="#000" stroke-width="0.2" font-size="15px">=</text><text transform="translate(307.00,274.2) rotate(0.05)" font-family="Liberation Serif, serif" font-weight="bold" font-style="italic" fill="#000" stroke="#000" stroke-width="0.2" font-size="15px">0.1</text><text transform="translate(337.00,274.2) rotate(0.05)" font-family="Liberation Serif, serif" font-weight="bold" font-style="italic" fill="#000" stroke="#000" stroke-width="0.2" font-size="15px">M</text>
<path d="M229.9,293.4 H261.5" stroke="#ff0000" stroke-width="2.2" stroke-dasharray="1.9,1.77"/>
<g transform="translate(265.7,297.1) scale(1.0)" fill="none" stroke="#000" stroke-linecap="round"><path d="M3.5,-8.6 Q4.4,-10.2 5.5,-9.7" stroke-width="1.1"/><path d="M5.6,-9.5 L7.7,-1.7" stroke-width="1.9"/><path d="M7.7,-1.6 Q8.1,-0.5 9.0,-1.6" stroke-width="1.1"/><path d="M6.0,-6.2 L1.5,0.2" stroke-width="1.3"/></g><text transform="translate(274.30,301.40) rotate(0.05)" font-family="Liberation Serif, serif" font-weight="bold" font-style="italic" fill="#000" stroke="#000" stroke-width="0.2" font-size="10px">DM</text><text transform="translate(295.10,297.1) rotate(0.05)" font-family="Liberation Serif, serif" font-weight="bold" font-style="italic" fill="#000" stroke="#000" stroke-width="0.2" font-size="15px">=</text><text transform="translate(307.00,297.1) rotate(0.05)" font-family="Liberation Serif, serif" font-weight="bold" font-style="italic" fill="#000" stroke="#000" stroke-width="0.2" font-size="15px">0.2</text><text transform="translate(337.00,297.1) rotate(0.05)" font-family="Liberation Serif, serif" font-weight="bold" font-style="italic" fill="#000" stroke="#000" stroke-width="0.2" font-size="15px">M</text>
<path d="M119.3,74.5 H133.4" stroke="#ff0000" stroke-width="1.0" stroke-dasharray="0.9,0.9"/>
<g transform="translate(135.6,76.6) scale(0.52,0.47)" fill="none" stroke="#000" stroke-linecap="round"><path d="M3.5,-8.6 Q4.4,-10.2 5.5,-9.7" stroke-width="1.1"/><path d="M5.6,-9.5 L7.7,-1.7" stroke-width="1.9"/><path d="M7.7,-1.6 Q8.1,-0.5 9.0,-1.6" stroke-width="1.1"/><path d="M6.0,-6.2 L1.5,0.2" stroke-width="1.3"/></g><text transform="translate(140.50,78.60) rotate(0.05) scale(1.16,1)" font-family="Liberation Serif, serif" font-weight="bold" font-style="italic" fill="#000" stroke="#000" stroke-width="0.2" font-size="5px">DM</text><text transform="translate(151.40,76.60) rotate(0.05) scale(1.16,1)" font-family="Liberation Serif, serif" font-weight="bold" font-style="italic" fill="#000" stroke="#000" stroke-width="0.2" font-size="7.6px">=</text><text transform="translate(158.30,76.60) rotate(0.05) scale(1.16,1)" font-family="Liberation Serif, serif" font-weight="bold" font-style="italic" fill="#000" stroke="#000" stroke-width="0.2" font-size="7.6px">0.2</text><text transform="translate(175.70,76.60) rotate(0.05) scale(1.16,1)" font-family="Liberation Serif, serif" font-weight="bold" font-style="italic" fill="#000" stroke="#000" stroke-width="0.2" font-size="7.6px">M</text>
<path d="M119.3,88 H131.3" stroke="#ff8000" stroke-width="1.05" stroke-dasharray="2.9,1.65"/>
<g transform="translate(135.6,90.1) scale(0.52,0.47)" fill="none" stroke="#000" stroke-linecap="round"><path d="M3.5,-8.6 Q4.4,-10.2 5.5,-9.7" stroke-width="1.1"/><path d="M5.6,-9.5 L7.7,-1.7" stroke-width="1.9"/><path d="M7.7,-1.6 Q8.1,-0.5 9.0,-1.6" stroke-width="1.1"/><path d="M6.0,-6.2 L1.5,0.2" stroke-width="1.3"/></g><text transform="translate(140.50,92.10) rotate(0.05) scale(1.16,1)" font-family="Liberation Serif, serif" font-weight="bold" font-style="italic" fill="#000" stroke="#000" stroke-width="0.2" font-size="5px">DM</text><text transform="translate(151.40,90.10) rotate(0.05) scale(1.16,1)" font-family="Liberation Serif, serif" font-weight="bold" font-style="italic" fill="#000" stroke="#000" stroke-width="0.2" font-size="7.6px">=</text><text transform="translate(158.30,90.10) rotate(0.05) scale(1.16,1)" font-family="Liberation Serif, serif" font-weight="bold" font-style="italic" fill="#000" stroke="#000" stroke-width="0.2" font-size="7.6px">0.15</text><text transform="translate(175.70,90.10) rotate(0.05) scale(1.16,1)" font-family="Liberation Serif, serif" font-weight="bold" font-style="italic" fill="#000" stroke="#000" stroke-width="0.2" font-size="7.6px">M</text>
<path d="M119.7,101.5 H133.6" stroke="#00ff00" stroke-width="1.4" stroke-dasharray="4.5,4.9"/>
<g transform="translate(135.6,103.5) scale(0.52,0.47)" fill="none" stroke="#000" stroke-linecap="round"><path d="M3.5,-8.6 Q4.4,-10.2 5.5,-9.7" stroke-width="1.1"/><path d="M5.6,-9.5 L7.7,-1.7" stroke-width="1.9"/><path d="M7.7,-1.6 Q8.1,-0.5 9.0,-1.6" stroke-width="1.1"/><path d="M6.0,-6.2 L1.5,0.2" stroke-width="1.3"/></g><text transform="translate(140.50,105.50) rotate(0.05) scale(1.16,1)" font-family="Liberation Serif, serif" font-weight="bold" font-style="italic" fill="#000" stroke="#000" stroke-width="0.2" font-size="5px">DM</text><text transform="translate(151.40,103.50) rotate(0.05) scale(1.16,1)" font-family="Liberation Serif, serif" font-weight="bold" font-style="italic" fill="#000" stroke="#000" stroke-width="0.2" font-size="7.6px">=</text><text transform="translate(158.30,103.50) rotate(0.05) scale(1.16,1)" font-family="Liberation Serif, serif" font-weight="bold" font-style="italic" fill="#000" stroke="#000" stroke-width="0.2" font-size="7.6px">0.1</text><text transform="translate(175.70,103.50) rotate(0.05) scale(1.16,1)" font-family="Liberation Serif, serif" font-weight="bold" font-style="italic" fill="#000" stroke="#000" stroke-width="0.2" font-size="7.6px">M</text>
<g font-family="Liberation Serif, serif" font-weight="bold" font-style="italic" fill="#000" stroke="#000" stroke-width="0.2" font-size="17.7px">
<text transform="translate(322.3,75.8) rotate(0.05)">Q</text><text transform="translate(340.2,75.8) rotate(0.05)">=</text><text transform="translate(359.3,75.8) rotate(0.05)">0.5</text><text transform="translate(386,75.8) rotate(0.05)">M</text>
<text transform="translate(323.5,99.4) rotate(0.05)">a</text><text transform="translate(342.5,99.4) rotate(0.05)">=</text><text transform="translate(360,99.4) rotate(0.05)">0.5</text><text transform="translate(387,99.4) rotate(0.05)">M</text><text transform="translate(403.3,92) rotate(0.05)" font-size="11px">2</text>
<text transform="translate(323,123.3) rotate(0.05)">J</text><text transform="translate(342.5,123.3) rotate(0.05)">=</text><text transform="translate(361,123.3) rotate(0.05)">4.0</text><text transform="translate(387,123.3) rotate(0.05)">M</text>
</g>
<text transform="translate(159.4,357.6) rotate(0.05)" font-family="Liberation Serif, serif" font-weight="bold" font-size="17.7px" fill="#000">Energy Parameter</text>
<text transform="translate(305,358.8) skewX(-12) scale(1.13,1)" font-family="Liberation Serif, serif" font-weight="bold" font-style="italic" fill="#000" stroke="#000" stroke-width="0.2" font-size="21.5px">ε</text>
<text transform="translate(313.3,363.4) rotate(0.05)" font-family="Liberation Serif, serif" font-weight="bold" font-style="italic" fill="#000" stroke="#000" stroke-width="0.2" font-size="13.6px">energy</text>
<text transform="translate(56.5,178.3) rotate(-90.05)" text-anchor="middle" font-family="Liberation Serif, serif" font-weight="bold" font-size="20.4px" fill="#000">Precession Angle (rad)</text>
</svg>
</body></html>
